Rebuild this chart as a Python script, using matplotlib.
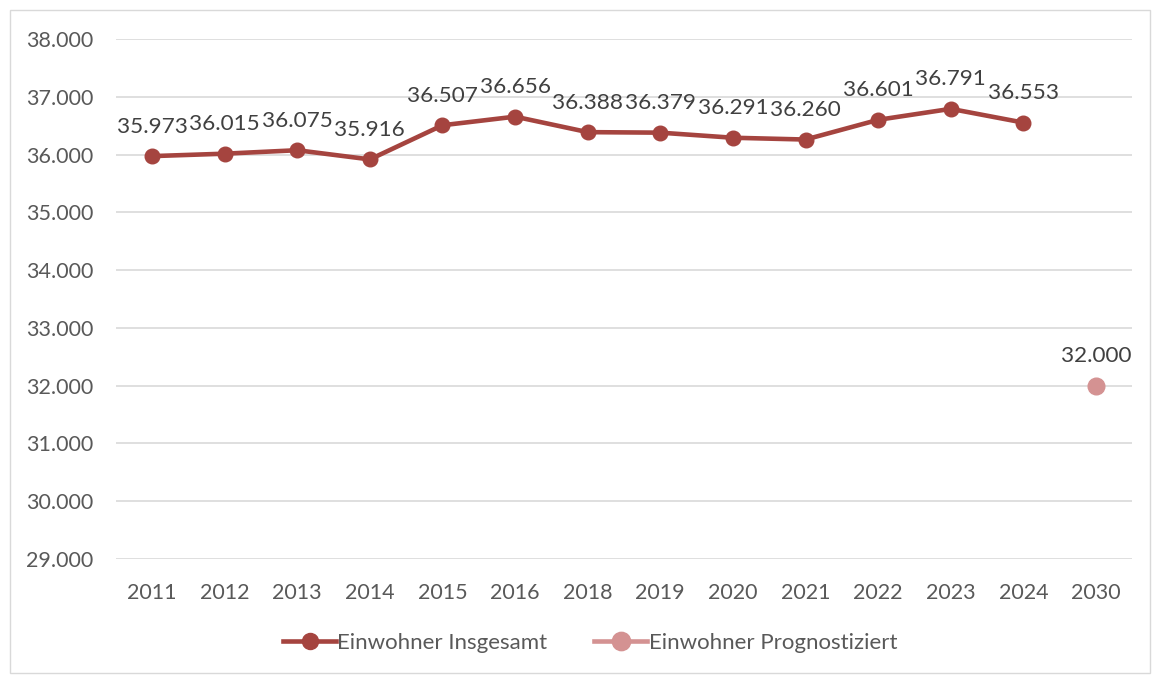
import numpy as np
import matplotlib.pyplot as plt
from matplotlib.patches import Rectangle

plt.rcParams['font.family'] = ['Lato', 'DejaVu Sans']

years = ['2011', '2012', '2013', '2014', '2015', '2016', '2018', '2019',
         '2020', '2021', '2022', '2023', '2024', '2030']
insgesamt = [35973, 36015, 36075, 35916, 36507, 36656, 36388, 36379,
             36291, 36260, 36601, 36791, 36553]
prognose = [32000]

def fmt(v):
    return f"{v:,}".replace(',', '.')

fig = plt.figure(figsize=(11.52, 6.75), dpi=100)
fig.patches.append(Rectangle((10 / 1152, 2 / 675), 1140 / 1152, 663 / 675,
                             transform=fig.transFigure, fill=False,
                             edgecolor='#d9d9d9', linewidth=1))
ax = fig.add_axes([115.7 / 1152, 1 - 559 / 675, 1016.6 / 1152, 520 / 675])

x = np.arange(len(years))
c1 = '#a5443f'
c2 = '#d49292'
ax.plot(x[:len(insgesamt)], insgesamt, color=c1, lw=3.3, marker='o', ms=10.5,
        label='Einwohner Insgesamt', zorder=3)
ax.plot(x[len(insgesamt):], prognose, color=c2, lw=3.3, marker='o', ms=12,
        label='Einwohner Prognostiziert', zorder=3)

for xi, v in zip(x, insgesamt + prognose):
    ax.annotate(fmt(v), (xi, v), xytext=(0, 14), textcoords='offset points',
                ha='center', va='bottom', fontsize=16.2, color='#404040')

ax.set_xlim(-0.5, len(years) - 0.5)
ax.set_ylim(29000, 38000)
ax.set_yticks(range(29000, 38001, 1000))
ax.set_yticklabels([fmt(v) for v in range(29000, 38001, 1000)])
ax.set_xticks(x)
ax.set_xticklabels(years)
ax.tick_params(length=0, labelsize=15.5, labelcolor='#595959')
ax.tick_params(axis='y', pad=16)
ax.tick_params(axis='x', pad=17)
ax.grid(axis='y', color='#d9d9d9', lw=1.2)
ax.set_axisbelow(True)
for s in ax.spines.values():
    s.set_visible(False)

leg = fig.legend(loc='center', bbox_to_anchor=(590 / 1152, 1 - 643 / 675), ncol=2,
                 frameon=False, fontsize=16, labelcolor='#595959',
                 handlelength=2.4, columnspacing=2.1, handletextpad=0.05,
                 markerscale=1.1)

fig.savefig('out.png', dpi=100)
